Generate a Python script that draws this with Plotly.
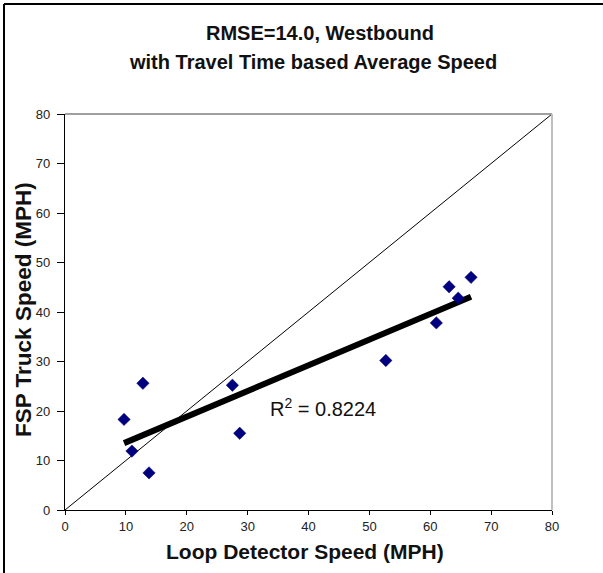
import numpy as np
import plotly.graph_objects as go

# Data
loop_speed = [9.7, 11.0, 12.8, 13.8, 27.5, 28.7, 52.7, 61.0, 63.1, 64.6, 66.7]
fsp_speed = [18.3, 11.9, 25.6, 7.5, 25.2, 15.5, 30.2, 37.8, 45.1, 42.8, 47.0]
diag = [0, 80]
tick_vals = [0, 10, 20, 30, 40, 50, 60, 70, 80]
r2_label = "R<sup>2</sup> = 0.8224"
title_lines = ["RMSE=14.0, Westbound", "with Travel Time based Average Speed"]
x_title = "Loop Detector Speed (MPH)"
y_title = "FSP Truck Speed (MPH)"

# Linear trendline from the data
slope, intercept = np.polyfit(loop_speed, fsp_speed, 1)
trend_x = [min(loop_speed), max(loop_speed)]
trend_y = [slope * v + intercept for v in trend_x]

FONT = "Liberation Sans, Arial, sans-serif"

fig = go.Figure()
fig.add_trace(go.Scatter(x=diag, y=diag, mode="lines",
                         line=dict(color="black", width=1), hoverinfo="skip"))
fig.add_trace(go.Scatter(x=trend_x, y=trend_y, mode="lines",
                         line=dict(color="black", width=6)))
fig.add_trace(go.Scatter(x=loop_speed, y=fsp_speed, mode="markers",
                         marker=dict(symbol="diamond", size=9.5, color="#000080",
                                     line=dict(color="#000060", width=0.5))))

W, H = 603, 573
L, R, T, B = 65, 51, 114, 63
pw, ph = W - L - R, H - T - B

def px(x):
    return (x - L) / pw

def py(y):
    return (H - B - y) / ph

fig.update_layout(
    width=W, height=H, showlegend=False,
    margin=dict(l=L, r=R, t=T, b=B, pad=0),
    paper_bgcolor="white", plot_bgcolor="white",
    font=dict(family=FONT, color="#222222"),
    xaxis=dict(range=[0, 80], tickvals=tick_vals, showgrid=False, zeroline=False,
               showline=True, linecolor="black", linewidth=1.2,
               ticks="outside", ticklen=4, tickcolor="black",
               tickfont=dict(size=13, family=FONT, color="#222222")),
    yaxis=dict(range=[0, 80], tickvals=tick_vals, showgrid=False, zeroline=False,
               showline=True, linecolor="black", linewidth=1.2,
               ticks="outside", ticklen=7, tickcolor="black", ticklabelstandoff=4,
               tickfont=dict(size=13, family=FONT, color="#222222")),
    shapes=[
        dict(type="line", xref="paper", yref="paper", x0=0, x1=1, y0=1, y1=1,
             line=dict(color="#808080", width=1.5)),
        dict(type="line", xref="paper", yref="paper", x0=1, x1=1, y0=0, y1=1,
             line=dict(color="#c0c0c0", width=2)),
        dict(type="line", xref="paper", yref="paper", x0=px(4), x1=px(4), y0=py(4), y1=py(H + 5),
             line=dict(color="black", width=2)),
        dict(type="line", xref="paper", yref="paper", x0=px(4), x1=px(W + 5), y0=py(4), y1=py(4),
             line=dict(color="black", width=2)),
    ],
    annotations=[
        dict(text="<b>%s</b>" % title_lines[0], xref="paper", yref="paper",
             x=px(320), y=py(33), showarrow=False, xanchor="center", yanchor="middle",
             font=dict(size=20, family=FONT, color="#111111")),
        dict(text="<b>%s</b>" % title_lines[1], xref="paper", yref="paper",
             x=px(313), y=py(62), showarrow=False, xanchor="center", yanchor="middle",
             font=dict(size=20, family=FONT, color="#111111")),
        dict(text="<b>%s</b>" % x_title, xref="paper", yref="paper",
             x=px(305), y=py(551), showarrow=False, xanchor="center", yanchor="middle",
             font=dict(size=21, family=FONT, color="#111111")),
        dict(text="<b>%s</b>" % y_title, xref="paper", yref="paper",
             x=px(23), y=py(310), showarrow=False, xanchor="center", yanchor="middle",
             textangle=-90, font=dict(size=22.5, family=FONT, color="#111111")),
        dict(text=r2_label, xref="x", yref="y", x=42.4, y=20.8, showarrow=False,
             xanchor="center", yanchor="middle",
             font=dict(size=20, family=FONT, color="#111111")),
    ],
)

fig.write_html("out.html")
